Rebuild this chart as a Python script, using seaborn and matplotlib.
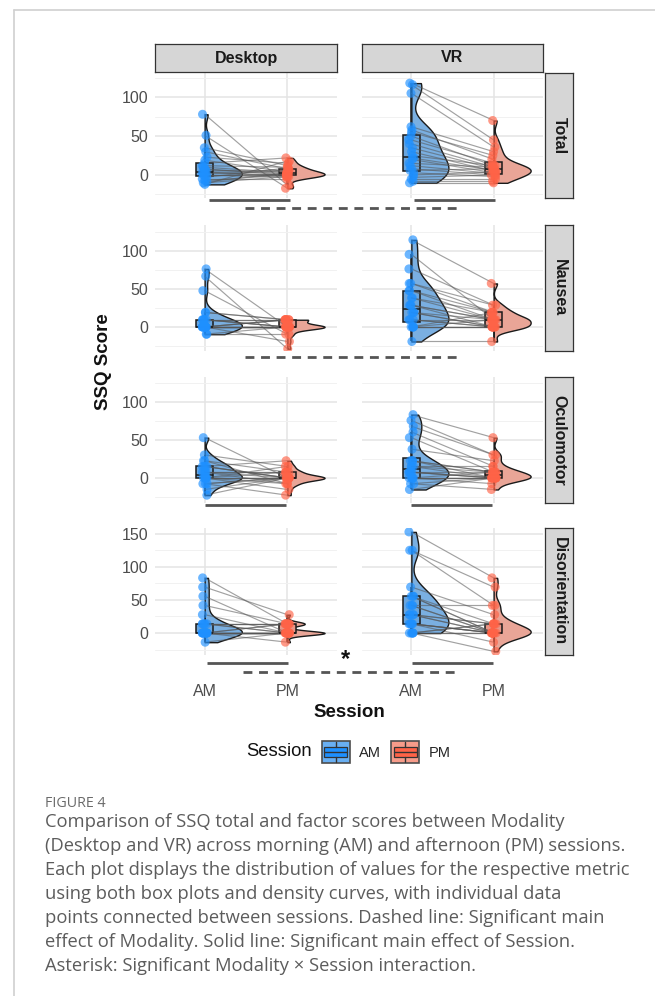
import numpy as np
import pandas as pd
import matplotlib
matplotlib.use("Agg")
import matplotlib.pyplot as plt
import seaborn as sns
from matplotlib.lines import Line2D
from matplotlib.patches import Rectangle, Patch
from matplotlib.legend_handler import HandlerBase
from matplotlib.ticker import MultipleLocator

# ---- data (paired AM / PM scores per participant) ----
modalities = ["Desktop", "VR"]
metrics = ["Total", "Nausea", "Oculomotor", "Disorientation"]
sessions = ["AM", "PM"]

desktop_total_am = [78, 51, 35, 30, 23, 19, 15, 12, 10, 8, 7, 5, 4, 3, 2, 0, 0, -1, -3, -5, -7, -9, -10, -12]
desktop_total_pm = [-13, -17, 12, 8, 15, 4, 22, 10, 3, 0, 2, 6, -2, 0, 5, 0, -3, 1, 9, -5, 0, 3, -2, 18]
vr_total_am = [118, 116, 105, 62, 58, 55, 50, 45, 40, 35, 30, 25, 22, 20, 15, 12, 8, 6, 3, 0, -3, -5, -8, -10]
vr_total_pm = [70, 45, 36, 30, 20, 25, 12, 15, 10, 8, 5, 12, 6, 3, 10, 2, 0, 8, -2, 4, 0, -5, -8, -10]

desktop_nausea_am = [76.3, 66.8, 47.7, 19.1, 9.5, 9.5, 9.5, 9.5, 0, 0, 0, 0, 0, 0, 0, 0, 0, 0, -9.5, -9.5, 9.5, 0, 19.1, 0]
desktop_nausea_pm = [0, -28.6, -9.5, 9.5, 0, 9.5, 0, 9.5, 0, 9.5, 0, 0, -19.1, 9.5, 0, 0, 0, 9.5, 0, -9.5, 0, 0, 9.5, 0]
vr_nausea_am = [114.5, 95.4, 76.3, 57.2, 57.2, 47.7, 47.7, 38.2, 38.2, 28.6, 28.6, 28.6, 19.1, 19.1, 19.1, 9.5, 9.5, 0, 0, 0, 0, 0, -19.1, 9.5]
vr_nausea_pm = [57.2, 9.5, 28.6, 19.1, 28.6, 19.1, 9.5, 9.5, 19.1, 9.5, 0, 9.5, 0, 9.5, 0, 9.5, 0, 0, 19.1, 0, 9.5, 0, -19.1, 0]

desktop_oculo_am = [53.1, 30.3, 22.7, 22.7, 15.2, 15.2, 15.2, 7.6, 7.6, 7.6, 0, 0, 0, 0, 0, 0, -7.6, -7.6, -15.2, -22.7, 7.6, 0, 15.2, -7.6]
desktop_oculo_pm = [0, 15.2, 7.6, -7.6, 0, 22.7, 0, 7.6, 0, -7.6, 0, 15.2, 0, -15.2, 0, 7.6, 0, -22.7, 0, 0, 7.6, -7.6, 0, 0]
vr_oculo_am = [83.4, 75.8, 68.2, 60.6, 53.1, 37.9, 22.7, 22.7, 15.2, 15.2, 15.2, 7.6, 7.6, 7.6, 7.6, 0, 0, 0, 0, -7.6, -7.6, -15.2, 0, 22.7]
vr_oculo_pm = [53.1, 30.3, 30.3, 15.2, 7.6, 22.7, 7.6, 0, 7.6, 0, 15.2, 0, 0, 7.6, 0, 0, -7.6, 0, 7.6, -15.2, 0, 0, 0, 7.6]

desktop_disor_am = [83.5, 69.6, 55.7, 41.8, 27.8, 13.9, 13.9, 13.9, 13.9, 0, 0, 0, 0, 0, 0, 0, 0, 0, 0, 0, 0, -13.9, 13.9, 0]
desktop_disor_pm = [13.9, 27.8, 0, 13.9, 0, 13.9, 0, 13.9, 0, 0, 13.9, 0, 0, 0, -13.9, 0, 0, 13.9, 0, 0, 0, 0, 13.9, 0]
vr_disor_am = [153.1, 125.3, 125.3, 69.6, 55.7, 55.7, 41.8, 41.8, 27.8, 27.8, 27.8, 27.8, 13.9, 13.9, 13.9, 13.9, 0, 0, 0, 0, 0, 41.8, 55.7, 13.9]
vr_disor_pm = [83.5, 41.8, 69.6, 27.8, 13.9, 0, 41.8, 0, 13.9, 0, 0, 13.9, 0, 0, -13.9, 0, 13.9, -27.8, 0, 0, 13.9, 0, 0, 0]

scores = {
    ("Desktop", "Total"): (desktop_total_am, desktop_total_pm),
    ("VR", "Total"): (vr_total_am, vr_total_pm),
    ("Desktop", "Nausea"): (desktop_nausea_am, desktop_nausea_pm),
    ("VR", "Nausea"): (vr_nausea_am, vr_nausea_pm),
    ("Desktop", "Oculomotor"): (desktop_oculo_am, desktop_oculo_pm),
    ("VR", "Oculomotor"): (vr_oculo_am, vr_oculo_pm),
    ("Desktop", "Disorientation"): (desktop_disor_am, desktop_disor_pm),
    ("VR", "Disorientation"): (vr_disor_am, vr_disor_pm),
}

caption_lines = [
    "Comparison of SSQ total and factor scores between Modality",
    "(Desktop and VR) across morning (AM) and afternoon (PM) sessions.",
    "Each plot displays the distribution of values for the respective metric",
    "using both box plots and density curves, with individual data",
    "points connected between sessions. Dashed line: Significant main",
    "effect of Modality. Solid line: Significant main effect of Session.",
    "Asterisk: Significant Modality \u00d7 Session interaction.",
]

# ---- styling / layout (pixel positions on the 655x996 canvas) ----
W, H = 655, 996
col_x = [(155, 337), (362, 543)]
row_y = [(73, 198), (225, 351), (377, 503), (528, 655)]
ylims = [(-29.5, 131), (-31.6, 134), (-33, 133), (-33.3, 159)]
half_w = 0.45  # max reach of the half violins (category units)

point_pal = {"AM": "#1E90FF", "PM": "#FF6347"}
box_pal = {"AM": "#55A5F2", "PM": "#F98A76"}
violin_pal = {"_am": "#ffffff", "AM": "#69AFF2", "_pm": "#ffffff", "PM": "#F69C8A"}
sig_color = "#555555"

sns.set_style("white")
plt.rcParams["font.family"] = ["Liberation Sans", "DejaVu Sans"]

fig = plt.figure(figsize=(W / 100, H / 100), dpi=100)


def frac(x0, y0, x1, y1):
    return [x0 / W, 1 - y1 / H, (x1 - x0) / W, (y1 - y0) / H]


def fx(x):
    return x / W


def fy(y):
    return 1 - y / H


np.random.seed(7)
for r, metric in enumerate(metrics):
    for c, mod in enumerate(modalities):
        am, pm = scores[(mod, metric)]
        n = len(am)
        df = pd.DataFrame({"Session": ["AM"] * n + ["PM"] * n, "Score": am + pm,
                           "pos": [0.0] * n + [1.0] * n})
        df["vpos"] = df["pos"] + half_w / 2
        ax = fig.add_axes(frac(col_x[c][0], row_y[r][0], col_x[c][1], row_y[r][1]))

        # half violins, flat side on the session position
        sns.violinplot(data=df, x="vpos", y="Score", hue="Session", native_scale=True,
                       hue_order=["_am", "AM", "_pm", "PM"], palette=violin_pal,
                       split=True, dodge=False, inner=None, cut=0, density_norm="width",
                       width=half_w, bw_adjust=0.7, linecolor="#1a1a1a", linewidth=1.0,
                       legend=False, ax=ax)
        sns.boxplot(data=df, x="pos", y="Score", hue="Session", native_scale=True,
                    hue_order=sessions, palette=box_pal, dodge=False, width=0.2,
                    showcaps=False, showfliers=False, linecolor="#1a1a1a", linewidth=1.1,
                    legend=False, ax=ax)
        # participant lines
        ax.plot(np.tile([[0.0], [1.0]], n), np.vstack([am, pm]), color="#555555",
                alpha=0.55, lw=0.85)
        sns.stripplot(data=df, x="pos", y="Score", hue="Session", native_scale=True,
                      hue_order=sessions, palette=point_pal, dodge=False, jitter=0.03,
                      size=6.5, alpha=0.65, linewidth=0, legend=False, zorder=3, ax=ax)

        ax.set_xlim(-0.6, 1.6)
        ax.set_ylim(*ylims[r])
        ax.set_xlabel("")
        ax.set_ylabel("")
        ax.set_xticks([0, 1])
        ax.set_xticklabels(sessions if r == 3 else ["", ""])
        ax.yaxis.set_major_locator(MultipleLocator(50))
        ax.yaxis.set_minor_locator(MultipleLocator(25))
        ax.tick_params(axis="both", which="both", length=0, labelsize=11.5,
                       labelcolor="#4d4d4d")
        ax.tick_params(axis="y", pad=5, labelleft=(c == 0))
        ax.tick_params(axis="x", pad=21)
        ax.set_axisbelow(True)
        ax.grid(True, which="major", color="#e4e4e4", lw=1.1)
        ax.grid(True, which="minor", axis="y", color="#f1f1f1", lw=0.7)
        sns.despine(ax=ax, left=True, bottom=True)


# ---- facet strips ----
def strip(x0, y0, x1, y1, text, rot):
    sax = fig.add_axes(frac(x0, y0, x1, y1))
    sax.set_facecolor("#d6d6d6")
    sax.set_xticks([])
    sax.set_yticks([])
    for s in sax.spines.values():
        s.set_visible(True)
        s.set_color("#333333")
        s.set_linewidth(0.9)
    sax.text(0.5, 0.5, text, rotation=rot, ha="center", va="center", fontsize=11.5,
             fontweight="bold", color="#1a1a1a", transform=sax.transAxes)


for c, mod in enumerate(modalities):
    strip(col_x[c][0], 44, col_x[c][1], 72, mod, 0)
for r, metric in enumerate(metrics):
    strip(545, row_y[r][0], 573, row_y[r][1], metric, 270)

# ---- significance marks ----
solid_marks = [(200, 209, 290), (200, 414, 495), (505, 205, 286), (505, 411, 492),
               (663, 207, 288), (663, 412, 493)]
dashed_marks = [(208, 245, 457), (357, 245, 457), (672, 243, 457)]
for y, x0, x1 in solid_marks:
    fig.add_artist(Line2D([fx(x0), fx(x1)], [fy(y), fy(y)], transform=fig.transFigure,
                          color=sig_color, lw=2, solid_capstyle="butt"))
for y, x0, x1 in dashed_marks:
    fig.add_artist(Line2D([fx(x0), fx(x1)], [fy(y), fy(y)], transform=fig.transFigure,
                          color=sig_color, lw=2, dashes=(3.2, 2.4)))
fig.text(fx(346), fy(660), "*", ha="center", va="center", fontsize=17,
         fontweight="bold", color="#111111")

# ---- axis titles ----
fig.text(fx(349), fy(712), "Session", ha="center", va="center", fontsize=13.5,
         fontweight="bold", color="#111111")
fig.text(fx(104), fy(362), "SSQ Score", ha="center", va="center", rotation=90,
         fontsize=13.5, fontweight="bold", color="#111111")


# ---- legend ----
class BoxKey(HandlerBase):
    def __init__(self, light, dark):
        super().__init__()
        self.light = light
        self.dark = dark

    def create_artists(self, legend, orig_handle, xdescent, ydescent, width, height,
                       fontsize, trans):
        x0, y0 = -xdescent, -ydescent
        arts = [Rectangle((x0, y0), width, height, facecolor=self.light,
                          edgecolor="#4d4d4d", lw=1.2, transform=trans),
                Rectangle((x0 + width * 0.08, y0 + height * 0.3), width * 0.84, height * 0.42,
                          facecolor=self.dark, edgecolor="#333333", lw=0.9, transform=trans),
                Line2D([x0 + width * 0.08, x0 + width * 0.92], [y0 + height * 0.5] * 2,
                       color="#333333", lw=1, transform=trans),
                Line2D([x0 + width / 2] * 2, [y0 + height * 0.72, y0 + height * 0.95],
                       color="#333333", lw=1, transform=trans),
                Line2D([x0 + width / 2] * 2, [y0 + height * 0.05, y0 + height * 0.3],
                       color="#333333", lw=1, transform=trans)]
        return arts


h_am = Patch(facecolor=point_pal["AM"])
h_pm = Patch(facecolor=point_pal["PM"])
fig.text(fx(312), fy(752), "Session", ha="right", va="center", fontsize=13.3, color="#111111")
fig.legend([h_am, h_pm], sessions, loc="center left", bbox_to_anchor=(fx(322), fy(752)),
           ncol=2, frameon=False, fontsize=10.5, handlelength=1.9, handleheight=2.0,
           handletextpad=0.65, columnspacing=0.7, borderpad=0, borderaxespad=0,
           handler_map={h_am: BoxKey(violin_pal["AM"], point_pal["AM"]),
                        h_pm: BoxKey(violin_pal["PM"], point_pal["PM"])})

# ---- caption ----
cap_font = ["Open Sans", "DejaVu Sans"]
fig.text(fx(45), fy(803), "FIGURE 4", ha="left", va="center", fontsize=10.3,
         color="#6a6a6a", family=cap_font)
for i, line in enumerate(caption_lines):
    fig.text(fx(45), fy(822 + 24 * i), line, ha="left", va="center", fontsize=13.2,
             color="#5c5c5c", family=cap_font)

# page frame
fig.add_artist(Line2D([fx(14), fx(14)], [0, fy(10)], transform=fig.transFigure,
                      color="#d0d0d0", lw=1.2))
fig.add_artist(Line2D([fx(14), 1], [fy(10), fy(10)], transform=fig.transFigure,
                      color="#d0d0d0", lw=1.2))

fig.savefig("out.png", dpi=100)
